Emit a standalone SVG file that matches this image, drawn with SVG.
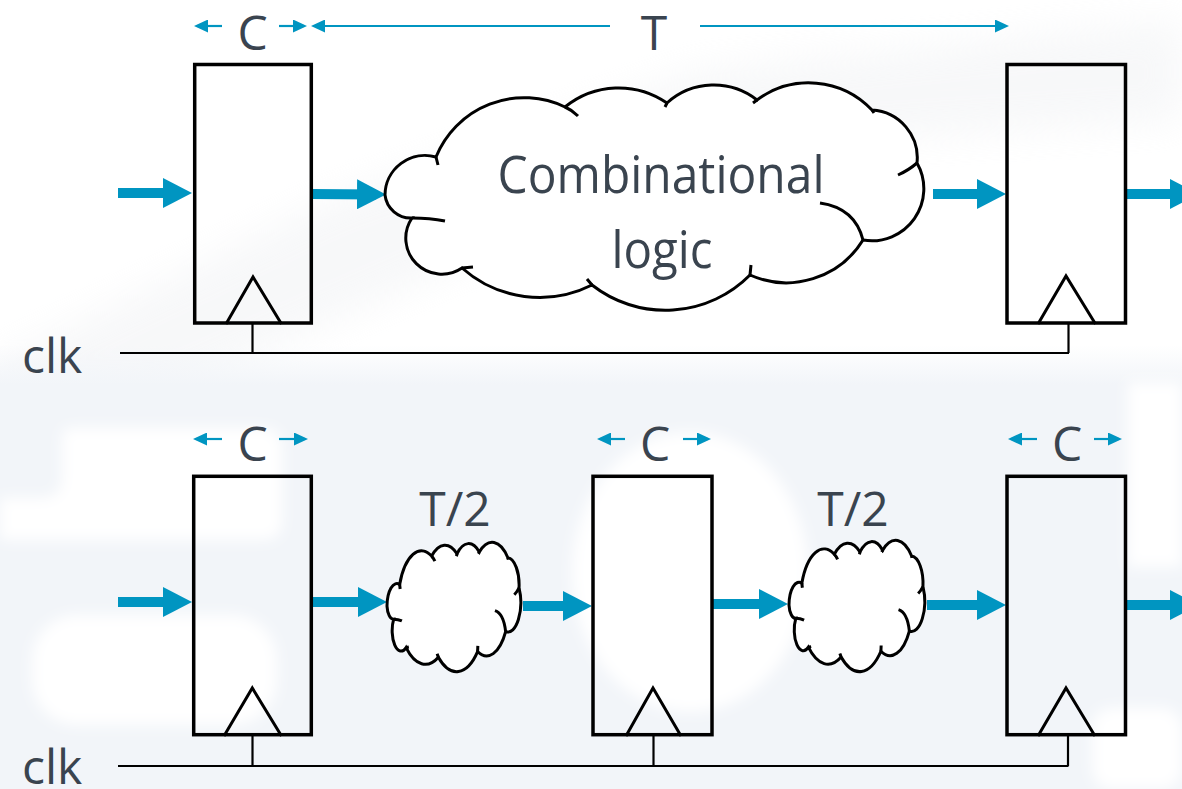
<svg xmlns="http://www.w3.org/2000/svg" width="1182" height="789" viewBox="0 0 1182 789">
<defs>
<style>
.reg{fill:none;stroke:#000;stroke-width:3.5}
.tri{fill:none;stroke:#000;stroke-width:3}
.clk{fill:none;stroke:#000;stroke-width:2.2}
.cloud{fill:#fff;stroke:#000;stroke-width:3;vector-effect:non-scaling-stroke}
.hook{fill:none;stroke:#000;stroke-width:3;vector-effect:non-scaling-stroke}
.big{fill:none;stroke:#0095c1;stroke-width:10;marker-end:url(#bigHead)}
.dim{fill:none;stroke:#0095c1;stroke-width:2.2;marker-end:url(#dimHead)}
.lbl{font-family:"Open Sans","Noto Sans","Liberation Sans",sans-serif;fill:#3a444f;font-size:48px;text-anchor:middle}
</style>
<linearGradient id="band" x1="0" y1="0" x2="0" y2="1">
<stop offset="0" stop-color="#f2f5f9" stop-opacity="0"/>
<stop offset="0.09" stop-color="#f2f5f9" stop-opacity="1"/>
<stop offset="1" stop-color="#f2f5f9" stop-opacity="1"/>
</linearGradient>
<filter id="soft" x="-20%" y="-20%" width="140%" height="140%"><feGaussianBlur stdDeviation="7"/></filter>
<filter id="softer" x="-20%" y="-50%" width="140%" height="200%"><feGaussianBlur stdDeviation="18"/></filter>
<marker id="bigHead" markerUnits="userSpaceOnUse" markerWidth="29" markerHeight="30" viewBox="0 0 29 30" refX="19" refY="15" orient="auto"><path d="M0,0 L29,15 L0,30 Z" fill="#0095c1"/></marker>
<marker id="dimHead" markerUnits="userSpaceOnUse" markerWidth="14" markerHeight="13" viewBox="0 0 14 13" refX="11" refY="6.5" orient="auto"><path d="M0,0 L14,6.5 L0,13 Z" fill="#0095c1"/></marker>
<g id="cloudShape">
<path class="cloud" d="M0,111 A40,40 0 0 1 51,73 A95,95 0 0 1 180,23 A85,85 0 0 1 282,19 A70,70 0 0 1 372,16 A87,87 0 0 1 487,26 A48,48 0 0 1 532,79 A52,52 0 0 1 478,156 A90,90 0 0 1 365,191 A119,119 0 0 1 207,201 A117,117 0 0 1 77,184 A36,36 0 0 1 27,134 A26,26 0 0 1 0,111 Z"/>
<path class="hook" d="M51,73 L53,81 M180,23 Q187,26 193,32 M282,19 L280,23 M372,16 L368,19 M487,26 L489,29 M532,79 Q524,86 513,91 M478,156 Q470,124 435,119 M365,191 L366,181 M207,201 L202,195 M77,184 L88,183 M27,134 Q45,134 60,137"/>
</g>
</defs>

<g id="background">
<rect width="1182" height="789" fill="#fff"/>
<path d="M0,360 L330,200 L700,70 L1182,20 L1182,120 L720,150 L380,300 L180,390 L0,400 Z" fill="#eceef1" opacity="0.4" filter="url(#softer)"/>
<rect y="345" width="1182" height="444" fill="url(#band)"/>
<g fill="#fff" filter="url(#soft)">
<path d="M70,428 H262 Q282,428 282,448 V522 Q282,540 262,540 H0 V498 H40 Q62,498 62,478 V440 Q62,428 70,428 Z"/>
<rect x="32" y="615" width="245" height="110" rx="45"/>
<ellipse cx="690" cy="572" rx="118" ry="140"/>
<rect x="1128" y="382" width="54" height="185"/>
<rect x="1092" y="708" width="90" height="81" rx="20"/>
</g>
</g>

<g id="connectors">
<line class="clk" x1="120" y1="353" x2="1069" y2="353"/>
<line class="clk" x1="252.5" y1="323" x2="252.5" y2="353"/>
<line class="clk" x1="1068.5" y1="323" x2="1068.5" y2="353"/>
<line class="clk" x1="118" y1="766" x2="1068.5" y2="766"/>
<line class="clk" x1="252.5" y1="735" x2="252.5" y2="766"/>
<line class="clk" x1="653.5" y1="735" x2="653.5" y2="766"/>
<line class="clk" x1="1068" y1="735" x2="1068" y2="766"/>

<line class="big" x1="118" y1="193" x2="182" y2="193"/>
<line class="big" x1="312" y1="194" x2="376" y2="194.5"/>
<line class="big" x1="933" y1="194" x2="996" y2="194"/>
<line class="big" x1="1127" y1="194" x2="1189" y2="194"/>

<line class="big" x1="118" y1="602" x2="182" y2="602"/>
<line class="big" x1="312" y1="602" x2="377" y2="602"/>
<line class="big" x1="523" y1="606" x2="582" y2="606"/>
<line class="big" x1="713" y1="604" x2="778" y2="604"/>
<line class="big" x1="927" y1="605" x2="996" y2="605"/>
<line class="big" x1="1127" y1="605" x2="1189" y2="605"/>

<line class="dim" x1="222" y1="26" x2="197" y2="26"/>
<line class="dim" x1="279" y1="26" x2="304" y2="26"/>
<line class="dim" x1="610" y1="26" x2="314" y2="26"/>
<line class="dim" x1="700" y1="26" x2="1006" y2="26"/>

<line class="dim" x1="222" y1="439" x2="196" y2="439"/>
<line class="dim" x1="279" y1="439" x2="305" y2="439"/>
<line class="dim" x1="625" y1="439" x2="600" y2="439"/>
<line class="dim" x1="683" y1="439" x2="708" y2="439"/>
<line class="dim" x1="1037" y1="439" x2="1011" y2="439"/>
<line class="dim" x1="1094" y1="439" x2="1119" y2="439"/>
</g>

<g id="reg-top-1">
<rect class="reg" x="194.7" y="64.5" width="116.6" height="258.5"/>
<polyline class="tri" points="226,324 253,277 281.5,324"/>
</g>
<g id="reg-top-2">
<rect class="reg" x="1007" y="64.5" width="118.5" height="258.5"/>
<polyline class="tri" points="1038,324 1066,276 1095.5,324"/>
</g>
<g id="cloud-big">
<use href="#cloudShape" transform="translate(385,84)"/>
<text class="lbl" x="661" y="193" textLength="327" lengthAdjust="spacingAndGlyphs" style="font-size:51px">Combinational</text>
<text class="lbl" x="662" y="268" style="font-size:51px" textLength="101" lengthAdjust="spacingAndGlyphs">logic</text>
</g>

<g id="reg-bot-1">
<rect class="reg" x="193.7" y="476.3" width="117.6" height="258.4"/>
<polyline class="tri" points="224,736 252.3,688 281.5,736"/>
</g>
<g id="cloud-small-1">
<use href="#cloudShape" transform="translate(387,543) scale(0.2482,0.5683)"/>
</g>
<g id="reg-bot-2">
<rect class="reg" x="593" y="476.3" width="119" height="258.4"/>
<polyline class="tri" points="626,736 653,688 681,736"/>
</g>
<g id="cloud-small-2">
<use href="#cloudShape" transform="translate(789,541) scale(0.2518,0.5771)"/>
</g>
<g id="reg-bot-3">
<rect class="reg" x="1007" y="476.3" width="118.5" height="258.4"/>
<polyline class="tri" points="1038,736 1066,688 1095,736"/>
</g>

<g id="labels">
<text class="lbl" x="252.5" y="50">C</text>
<text class="lbl" x="654" y="50">T</text>
<text class="lbl" x="22" y="373" style="text-anchor:start">clk</text>
<text class="lbl" x="252.5" y="461">C</text>
<text class="lbl" x="655" y="461">C</text>
<text class="lbl" x="1067" y="461">C</text>
<text class="lbl" x="455" y="526">T/2</text>
<text class="lbl" x="853" y="526">T/2</text>
<text class="lbl" x="22" y="784" style="text-anchor:start">clk</text>
</g>
</svg>
